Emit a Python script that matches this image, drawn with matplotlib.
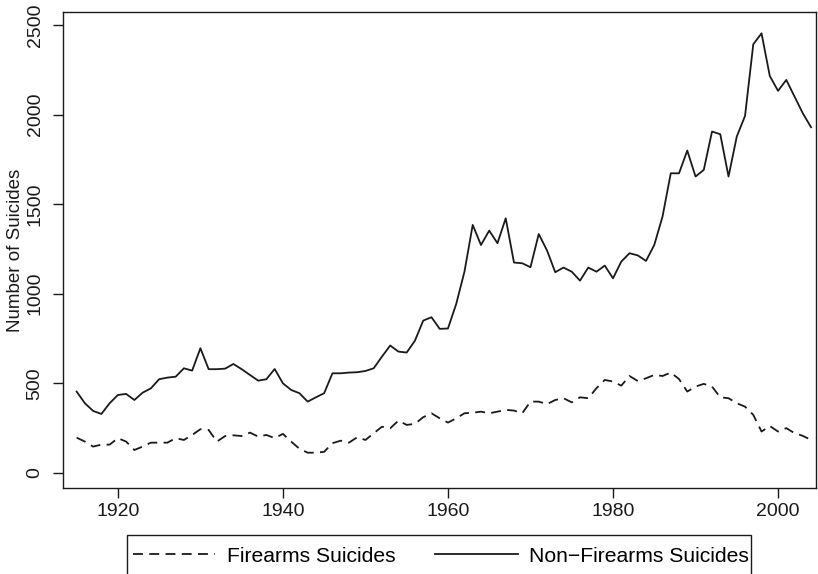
import matplotlib
matplotlib.use("Agg")
import matplotlib.pyplot as plt
from matplotlib.patches import Rectangle

plt.rcParams['font.family'] = ['Liberation Sans', 'DejaVu Sans']

years = list(range(1915, 2005))

firearms = [197, 175, 147, 158, 158, 194, 175, 128, 147, 169,
            169, 169, 194, 184, 212, 244, 240, 175, 206, 210,
            206, 225, 203, 212, 194, 218, 175, 135, 113, 113,
            118, 166, 180, 169, 199, 184, 221, 258, 249, 292,
            268, 274, 311, 333, 305, 281, 305, 333, 336, 342,
            333, 342, 352, 348, 333, 398, 398, 384, 407, 417,
            394, 422, 417, 473, 519, 510, 487, 541, 513, 528,
            547, 541, 560, 524, 454, 482, 497, 482, 422, 417,
            389, 370, 324, 231, 262, 231, 250, 222, 207, 184]

non_firearms = [454, 389, 346, 329, 389, 435, 441, 407, 448, 472,
                523, 532, 537, 584, 571, 696, 579, 579, 582, 608,
                579, 547, 515, 523, 580, 500, 463, 445, 398, 422,
                445, 556, 556, 560, 562, 569, 584, 649, 711, 677,
                672, 738, 850, 869, 804, 806, 943, 1123, 1384, 1272,
                1352, 1282, 1421, 1174, 1170, 1148, 1333, 1242, 1120, 1146,
                1123, 1073, 1146, 1123, 1157, 1086, 1179, 1226, 1214, 1183,
                1272, 1430, 1672, 1672, 1799, 1654, 1691, 1905, 1890, 1654,
                1877, 1992, 2392, 2453, 2215, 2132, 2193, 2100, 2007, 1929]

x_ticks = [1920, 1940, 1960, 1980, 2000]
y_ticks = [0, 500, 1000, 1500, 2000, 2500]
labels = ["Firearms Suicides", "Non\u2212Firearms Suicides"]

W, H = 818, 574
fig = plt.figure(figsize=(W / 100, H / 100), dpi=100)
ax = fig.add_axes([63 / W, 1 - 488 / H, (816 - 63) / W, (488 - 12) / H])

col = '#1a1a1a'
l1, = ax.plot(years, firearms, color=col, lw=1.3, linestyle=(0, (5.5, 3.5)), label=labels[0])
l2, = ax.plot(years, non_firearms, color=col, lw=1.3, linestyle='-', label=labels[1])

ax.set_xlim(1913.35, 2004.6)
ax.set_ylim(-84, 2572)
ax.set_xticks(x_ticks)
ax.set_yticks(y_ticks)
ax.tick_params(axis='both', direction='out', length=7, width=1, colors=col, labelsize=14)
ax.tick_params(axis='x', pad=4)
ax.tick_params(axis='y', labelrotation=90, pad=7)
for lab in ax.get_yticklabels():
    lab.set_va('center')
ax.set_ylabel("Number of Suicides", fontsize=13.5, color=col, labelpad=1.5)
for s in ax.spines.values():
    s.set_linewidth(1.0)
    s.set_color(col)

fig.patches.append(Rectangle((127 / W, -0.05), (751 - 127) / W, 0.05 + (574 - 535) / H,
                             transform=fig.transFigure, fill=False, edgecolor=col, lw=1.0))
fig.legend(handles=[l1, l2], labels=labels, loc='center', bbox_to_anchor=(441 / W, 1 - 556 / H),
           ncol=2, frameon=False, fontsize=15.2, handlelength=3.9, handletextpad=0.55,
           columnspacing=1.9, borderpad=0)

fig.savefig("out.png", dpi=100)
